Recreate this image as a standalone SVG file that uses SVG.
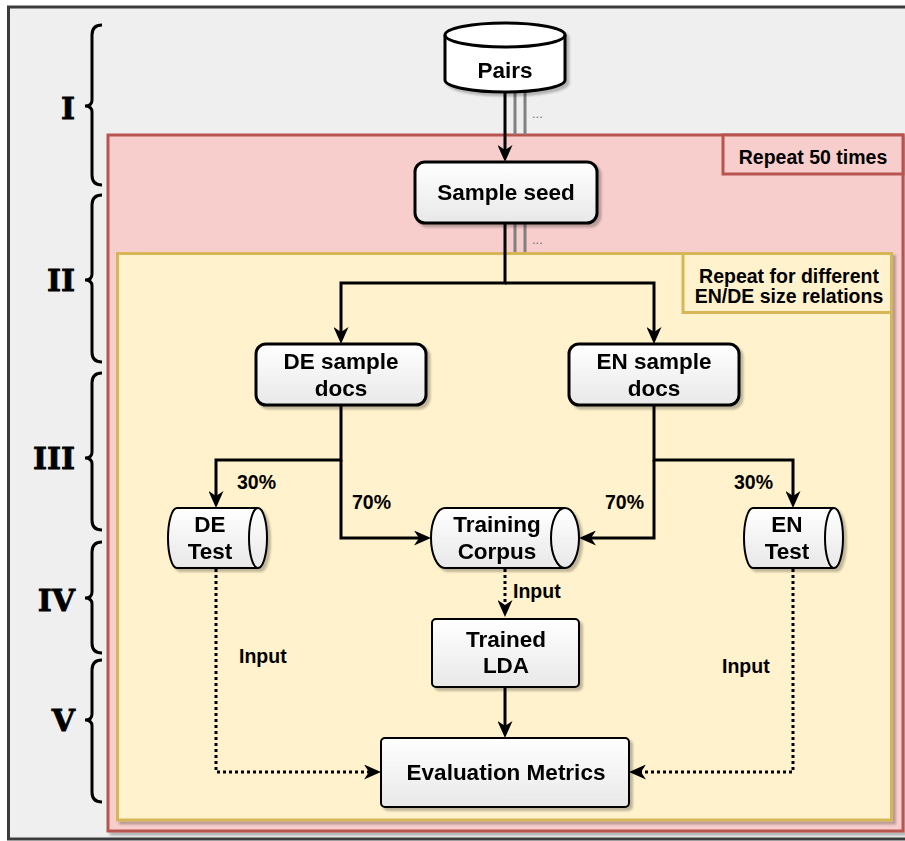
<svg xmlns="http://www.w3.org/2000/svg" width="905" height="841" viewBox="0 0 905 841">
<defs>
<linearGradient id="g" x1="0" y1="0" x2="0" y2="1"><stop offset="0" stop-color="#ffffff"/><stop offset="1" stop-color="#e8e8e8"/></linearGradient>
<filter id="sh" x="-10%" y="-10%" width="130%" height="130%"><feGaussianBlur in="SourceAlpha" stdDeviation="0.8"/><feOffset dx="3" dy="3" result="o"/><feFlood flood-color="#000" flood-opacity="0.25"/><feComposite in2="o" operator="in"/><feMerge><feMergeNode/><feMergeNode in="SourceGraphic"/></feMerge></filter>
<marker id="ah" viewBox="0 0 17 15" refX="5" refY="7.5" markerWidth="17" markerHeight="15" markerUnits="userSpaceOnUse" orient="auto"><path d="M0,0 L17,7.5 L0,15 L5,7.5 Z" fill="#000"/></marker>
</defs>
<style>
.t{font-family:"Liberation Sans",Arial,sans-serif;font-weight:bold;font-size:22.5px;fill:#000;text-anchor:middle}
.l{font-family:"Liberation Sans",Arial,sans-serif;font-weight:bold;font-size:19.5px;fill:#000}
.n{font-family:"DejaVu Serif",serif;font-weight:bold;font-size:30px;fill:#000;text-anchor:end;stroke:#000;stroke-width:0.8}
.node{fill:url(#g);stroke:#000}
.e{fill:none;stroke:#000;stroke-width:3}
.d{fill:none;stroke:#000;stroke-width:3;stroke-dasharray:3 3}
.br{fill:none;stroke:#000;stroke-width:3}
.gl{stroke:#808080;stroke-width:3}
</style>
<rect x="8.5" y="7" width="910" height="832" fill="#efefef" stroke="#3c3c3c" stroke-width="3"/>
<g id="braces">
<path class="br" d="M102,25 Q92,25 92,35 L92,100 Q92,106 85,106 Q92,106 92,112 L92,175 Q92,185 102,185"/>
<path class="br" d="M102,195 Q92,195 92,205 L92,274 Q92,280 85,280 Q92,280 92,286 L92,352 Q92,362 102,362"/>
<path class="br" d="M102,373 Q92,373 92,383 L92,452 Q92,458 85,458 Q92,458 92,464 L92,520 Q92,530 102,530"/>
<path class="br" d="M102,542 Q92,542 92,552 L92,592 Q92,598 85,598 Q92,598 92,604 L92,643 Q92,653 102,653"/>
<path class="br" d="M102,660 Q92,660 92,670 L92,714 Q92,720 85,720 Q92,720 92,726 L92,792 Q92,802 102,802"/>
</g>
<g id="numerals">
<text class="n" x="75" y="119">I</text>
<text class="n" x="75" y="291">II</text>
<text class="n" x="75" y="469">III</text>
<text class="n" x="75" y="611">IV</text>
<text class="n" x="75" y="731">V</text>
</g>
<g id="repeat50">
<rect x="108" y="135" width="795" height="696" fill="#f8cecc" stroke="#b85450" stroke-width="3" filter="url(#sh)"/>
<rect x="723" y="135" width="180" height="39" fill="#f8cecc" stroke="#b85450" stroke-width="3"/>
<text class="l" x="813" y="164" text-anchor="middle">Repeat 50 times</text>
</g>
<g id="gray-top">
<line class="gl" x1="515" y1="90" x2="515" y2="135"/>
<line class="gl" x1="525" y1="88" x2="525" y2="135"/>
<text x="532" y="118" font-family="Liberation Sans,sans-serif" font-size="13" fill="#707070">...</text>
<line class="gl" x1="515" y1="223" x2="515" y2="253"/>
<line class="gl" x1="525" y1="223" x2="525" y2="253"/>
<text x="532" y="244" font-family="Liberation Sans,sans-serif" font-size="13" fill="#707070">...</text>
</g>
<g id="repeatSize">
<rect x="117.5" y="253.5" width="774" height="566.5" fill="#fff2cc" stroke="#d6b656" stroke-width="3" filter="url(#sh)"/>
<rect x="683" y="253.5" width="208.5" height="59" fill="#fff2cc" stroke="#d6b656" stroke-width="3"/>
<text class="l" x="789" y="283" text-anchor="middle">Repeat for different</text>
<text class="l" x="789" y="303" text-anchor="middle">EN/DE size relations</text>
</g>
<g id="connectors">
<path class="e" d="M505,92 V150" marker-end="url(#ah)"/>
<path class="e" d="M505,223 V283 H341 V332" marker-end="url(#ah)"/>
<path class="e" d="M505,283 H654 V332" marker-end="url(#ah)"/>
<path class="e" d="M341,405 V460 H216 V496" marker-end="url(#ah)"/>
<path class="e" d="M341,460 V538 H419" marker-end="url(#ah)"/>
<path class="e" d="M654,405 V460 H793 V496" marker-end="url(#ah)"/>
<path class="e" d="M654,460 V538 H591" marker-end="url(#ah)"/>
<path class="d" d="M505,569 V605" marker-end="url(#ah)"/>
<path class="e" d="M505,687 V726" marker-end="url(#ah)"/>
<path class="d" d="M216,569 V772 H369" marker-end="url(#ah)"/>
<path class="d" d="M793,569 V772 H641" marker-end="url(#ah)"/>
<text class="l" x="237" y="489">30%</text>
<text class="l" x="352" y="509">70%</text>
<text class="l" x="605" y="509">70%</text>
<text class="l" x="734" y="489">30%</text>
<text class="l" x="513" y="598">Input</text>
<text class="l" x="239" y="663">Input</text>
<text class="l" x="722" y="673">Input</text>
</g>
<g id="pairs" filter="url(#sh)">
<path stroke="#000" stroke-width="3" fill="#fff" d="M445,35 A60,12 0 0 1 565,35 L565,80 A60,12 0 0 1 445,80 Z"/>
<path fill="none" stroke="#000" stroke-width="3" d="M445,35 A60,12 0 0 0 565,35"/>
<text class="t" x="505" y="78">Pairs</text>
</g>
<g id="sampleSeed" filter="url(#sh)">
<rect class="node" x="415" y="162" width="182" height="61" rx="10" stroke-width="3"/>
<text class="t" x="506" y="200">Sample seed</text>
</g>
<g id="deSample" filter="url(#sh)">
<rect class="node" x="256" y="344" width="170" height="61" rx="10" stroke-width="3"/>
<text class="t" x="341" y="369">DE sample</text>
<text class="t" x="341" y="396">docs</text>
</g>
<g id="enSample" filter="url(#sh)">
<rect class="node" x="569" y="344" width="170" height="61" rx="10" stroke-width="3"/>
<text class="t" x="654" y="369">EN sample</text>
<text class="t" x="654" y="396">docs</text>
</g>
<g id="deTest" filter="url(#sh)">
<path class="node" stroke-width="2" d="M177,508 L258,508 A9,30 0 0 1 258,568 L177,568 A9,30 0 0 1 177,508 Z"/>
<path fill="none" stroke="#000" stroke-width="2" d="M258,508 A9,30 0 0 0 258,568"/>
<text class="t" x="210" y="532">DE</text>
<text class="t" x="210" y="559">Test</text>
</g>
<g id="trainingCorpus" filter="url(#sh)">
<path class="node" stroke-width="2" d="M445,508 L565,508 A14,30 0 0 1 565,568 L445,568 A14,30 0 0 1 445,508 Z"/>
<path fill="none" stroke="#000" stroke-width="2" d="M565,508 A14,30 0 0 0 565,568"/>
<text class="t" x="497" y="532">Training</text>
<text class="t" x="497" y="559">Corpus</text>
</g>
<g id="enTest" filter="url(#sh)">
<path class="node" stroke-width="2" d="M753,508 L834,508 A9,30 0 0 1 834,568 L753,568 A9,30 0 0 1 753,508 Z"/>
<path fill="none" stroke="#000" stroke-width="2" d="M834,508 A9,30 0 0 0 834,568"/>
<text class="t" x="787" y="532">EN</text>
<text class="t" x="787" y="559">Test</text>
</g>
<g id="trainedLDA" filter="url(#sh)">
<rect class="node" x="432" y="619" width="147" height="68" rx="4" stroke-width="2"/>
<text class="t" x="506" y="647">Trained</text>
<text class="t" x="506" y="673">LDA</text>
</g>
<g id="evalMetrics" filter="url(#sh)">
<rect class="node" x="381" y="738" width="248" height="69" rx="4" stroke-width="2"/>
<text class="t" x="506" y="780">Evaluation Metrics</text>
</g>
</svg>
